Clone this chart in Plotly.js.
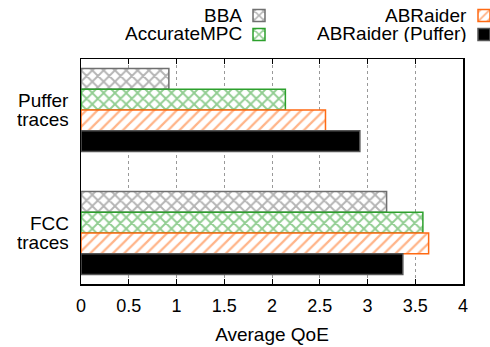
<!DOCTYPE html>
<html><head><meta charset="utf-8">
<script src="https://cdn.plot.ly/plotly-3.0.1.min.js"></script>
<style>html,body{margin:0;padding:0;background:#fff}</style>
</head><body><div id="chart" style="width:490px;height:347px"></div>
<script>
const categories = ["Puffer traces", "FCC traces"];
const seriesNames = ["BBA", "AccurateMPC", "ABRaider", "ABRaider (Puffer)"];
const bba = [0.92, 3.20];
const accurateMPC = [2.14, 3.58];
const abraider = [2.56, 3.64];
const abraiderPuffer = [2.92, 3.37];
const xTicks = [0, 0.5, 1, 1.5, 2, 2.5, 3, 3.5, 4];
const xTickLabels = ["0", "0.5", "1", "1.5", "2", "2.5", "3", "3.5", "4"];

const FONT = "Liberation Sans, Arial, sans-serif";
const PL = 81, PR = 463, PT = 59, PB = 284;
const px2x = x => (x - PL) / (PR - PL);
const px2y = y => 1 - (y - PT) / (PB - PT);

const styles = [
  {fill: "#ffffff", fg: "#6a6a6a", line: "#707070", shape: "x", sol: 0.42, legend: "legend"},
  {fill: "#ffffff", fg: "#259c25", line: "#2ca02c", shape: "x", sol: 0.42, legend: "legend"},
  {fill: "#ffffff", fg: "#ff6a13", line: "#ff6a13", shape: "/", sol: 0.28, legend: "legend2"},
  {fill: "#000000", fg: "#000000", line: "#555555", shape: "", sol: 0, legend: "legend2"}
];
const values = [bba, accurateMPC, abraider, abraiderPuffer];

const traces = values.map((v, i) => ({
  type: "bar",
  orientation: "h",
  x: v,
  y: categories,
  name: "",
  legend: styles[i].legend,
  hovertext: seriesNames[i],
  marker: {
    color: styles[i].fill,
    line: {color: styles[i].line, width: 1.5},
    pattern: styles[i].shape ? {shape: styles[i].shape, fgcolor: styles[i].fg, bgcolor: "#ffffff", size: 8, solidity: styles[i].sol, fillmode: "overlay"} : undefined
  }
}));

const legendText = [
  {text: seriesNames[0], x: 243, y: 15},
  {text: seriesNames[1], x: 243, y: 34},
  {text: seriesNames[2], x: 468, y: 15},
  {text: seriesNames[3], x: 468, y: 34}
].map(a => ({
  text: a.text, xref: "paper", yref: "paper",
  x: px2x(a.x), y: px2y(a.y),
  xanchor: "right", yanchor: "middle", showarrow: false,
  height: 17, borderpad: 0,
  font: {family: FONT, size: 19, color: "#000"}
}));

const catText = [];
categories.forEach((c, i) => {
  const parts = c.split(" ");
  parts.forEach((p, j) => {
    catText.push({
      text: p, xref: "paper", yref: "y", x: px2x(70), y: i,
      xanchor: "right", yanchor: "middle", showarrow: false,
      height: 17, borderpad: 0,
      yshift: (parts.length - 1) / 2 * 19 - j * 19,
      font: {family: FONT, size: 19, color: "#000"}
    });
  });
});

const layout = {
  width: 490, height: 347,
  margin: {l: PL, r: 490 - PR, t: PT, b: 347 - PB, autoexpand: false},
  paper_bgcolor: "#fff", plot_bgcolor: "#fff",
  barmode: "group",
  bargap: 0.325, bargroupgap: 0,
  font: {family: FONT, size: 19, color: "#000"},
  xaxis: {
    range: [0, 4], tickvals: xTicks, ticktext: xTickLabels,
    showgrid: true, gridcolor: "#999", griddash: "dot", gridwidth: 1,
    ticks: "inside", ticklen: 5, tickcolor: "#000",
    showline: true, linecolor: "#000", linewidth: 1.5, mirror: "ticks",
    zeroline: false,
    tickfont: {family: FONT, size: 18},
    ticklabelstandoff: 5,
    title: {text: "Average QoE", font: {family: FONT, size: 19}, standoff: 12}
  },
  yaxis: {
    type: "category",
    categoryarray: categories,
    range: [1.415, -0.415],
    showgrid: false, showticklabels: false,
    ticks: "", showline: true, linecolor: "#000", linewidth: 1.5, mirror: true
  },
  showlegend: true,
  legend: {x: px2x(239), y: px2y(1), xanchor: "left", yanchor: "top", orientation: "v", bgcolor: "rgba(0,0,0,0)", font: {size: 10}, tracegroupgap: 0},
  legend2: {x: px2x(464), y: px2y(1), xanchor: "left", yanchor: "top", orientation: "v", bgcolor: "rgba(0,0,0,0)", font: {size: 10}, tracegroupgap: 0},
  annotations: legendText.concat(catText)
};

Plotly.newPlot("chart", traces, layout, {displayModeBar: false, staticPlot: true});
</script></body></html>
